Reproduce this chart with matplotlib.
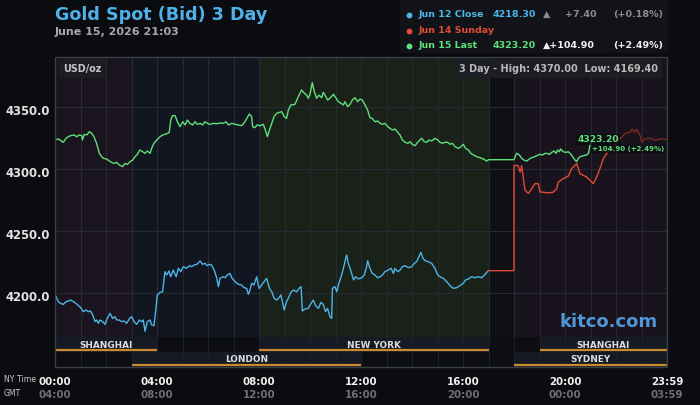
import matplotlib
matplotlib.use("Agg")
import matplotlib.pyplot as plt
from matplotlib.patches import Rectangle
from matplotlib.lines import Line2D

# ---- data (NY time in hours, price in USD/oz) ----
jun12_hours = [0.00, 0.07, 0.13, 0.22, 0.33, 0.43, 0.52, 0.61, 0.72, 0.82, 0.92, 1.01, 1.11, 1.22,
               1.31, 1.39, 1.48, 1.57, 1.63, 1.70, 1.76, 1.87, 1.96, 2.05, 2.16, 2.26, 2.35, 2.42,
               2.52, 2.61, 2.71, 2.81, 2.92, 3.01, 3.10, 3.20, 3.31, 3.40, 3.46, 3.53, 3.62, 3.73,
               3.79, 3.88, 3.96, 4.01, 4.12, 4.22, 4.31, 4.38, 4.47, 4.54, 4.64, 4.75, 4.84, 4.93,
               5.03, 5.16, 5.27, 5.36, 5.45, 5.56, 5.69, 5.79, 5.88, 5.97, 6.05, 6.14, 6.24, 6.34,
               6.41, 6.47, 6.58, 6.67, 6.76, 6.86, 6.93, 7.06, 7.19, 7.32, 7.41, 7.52, 7.58, 7.65,
               7.71, 7.80, 7.91, 7.97, 8.01, 8.10, 8.20, 8.30, 8.41, 8.50, 8.59, 8.69, 8.82,
               8.86, 8.99, 9.08, 9.15, 9.25, 9.35, 9.48, 9.57, 9.65, 9.70, 9.80, 9.93, 10.04, 10.13,
               10.22, 10.33, 10.43, 10.52, 10.61, 10.69, 10.78, 10.85, 10.88, 10.98, 11.05, 11.11,
               11.22, 11.31, 11.40, 11.44, 11.50, 11.57, 11.63, 11.71, 11.79, 11.90, 12.03, 12.13,
               12.22, 12.26, 12.35, 12.44, 12.55, 12.65, 12.75, 12.84, 12.94, 13.07, 13.18, 13.27,
               13.33, 13.44, 13.53, 13.62, 13.73, 13.86, 13.99, 14.09, 14.18, 14.27, 14.35, 14.44,
               14.54, 14.64, 14.77, 14.90, 15.01, 15.10, 15.23, 15.36, 15.49, 15.62, 15.75, 15.88,
               16.01, 16.10, 16.21, 16.34, 16.47, 16.60, 16.73, 16.84, 16.93, 17.00]
jun12_close = [4199.2, 4196.0, 4193.3, 4191.9, 4191.1, 4193.3, 4193.8, 4194.6, 4193.3, 4191.9,
               4190.1, 4188.4, 4185.2, 4186.6, 4185.2, 4185.8, 4182.5, 4177.2, 4178.5, 4175.8,
               4178.5, 4177.2, 4175.0, 4179.8, 4183.9, 4179.8, 4181.2, 4178.5, 4178.5, 4177.2,
               4177.7, 4175.8, 4179.8, 4181.2, 4177.2, 4175.0, 4178.5, 4177.2, 4178.5, 4169.4,
               4177.2, 4178.5, 4174.5, 4173.9, 4187.9, 4198.7, 4200.8, 4201.3, 4217.5, 4214.8,
               4218.0, 4213.4, 4218.8, 4213.4, 4220.2, 4217.5, 4221.5, 4220.2, 4222.3, 4221.5,
               4222.8, 4223.4, 4226.1, 4223.4, 4224.2, 4222.3, 4223.4, 4222.8, 4218.8, 4212.6,
               4205.4, 4212.1, 4213.4, 4212.6, 4214.8, 4216.1, 4212.6, 4209.4, 4207.3, 4206.7,
               4204.6, 4204.0, 4199.2, 4202.7, 4208.1, 4206.7, 4213.4, 4206.7, 4204.0, 4206.7,
               4209.4, 4212.1, 4204.0, 4201.3, 4196.0, 4194.6, 4197.3,
               4198.7, 4186.6, 4193.3, 4196.0, 4200.8, 4202.7, 4201.3, 4204.0, 4205.4, 4185.8,
               4187.4, 4187.9, 4191.9, 4194.6, 4190.1, 4187.9, 4192.7, 4191.1, 4185.2, 4187.9,
               4181.2, 4179.8, 4204.0, 4205.4, 4201.3, 4206.7, 4213.4, 4220.2, 4228.2, 4230.9,
               4224.2, 4220.2, 4216.1, 4210.8, 4213.4, 4211.6, 4212.6, 4214.8, 4221.5, 4226.3,
               4220.2, 4216.1, 4214.8, 4212.6, 4213.4, 4214.8, 4217.5, 4218.8, 4220.2, 4216.1,
               4220.2, 4217.5, 4218.8, 4221.5, 4222.3, 4220.7, 4221.5, 4224.2, 4225.5, 4229.6,
               4233.1, 4227.7, 4226.1, 4225.5, 4224.2, 4220.2, 4214.8, 4213.4, 4212.1, 4209.4,
               4206.2, 4204.0, 4204.6, 4206.2, 4208.1, 4210.8, 4211.6, 4213.4, 4212.6, 4213.4,
               4212.6, 4214.8, 4216.9, 4218.3]

jun14_hours = [17.00, 18.00, 18.00, 18.10, 18.16, 18.24, 18.30, 18.43, 18.56, 18.69, 18.82, 18.95,
               19.02, 19.28, 19.41, 19.54, 19.67, 19.74, 19.93, 20.13, 20.26, 20.46, 20.59, 20.85,
               21.11, 21.24, 21.37, 21.50, 21.70]
jun14_sunday = [4218.3, 4218.3, 4303.0, 4303.2, 4303.0, 4297.8, 4303.0, 4283.3, 4280.6, 4284.1,
                4288.5, 4288.5, 4281.8, 4281.2, 4281.0, 4281.6, 4284.4, 4289.8, 4292.5, 4294.6,
                4300.6, 4304.6, 4296.5, 4293.8, 4288.5, 4293.8, 4300.6, 4308.6, 4314.5]
jun14_tail_hours = [21.70, 21.92, 22.16, 22.35, 22.55, 22.62, 22.75, 22.81, 22.94, 23.01, 23.14,
                    23.33, 23.53, 23.73, 24.00]
jun14_tail = [4314.5, 4318.0, 4324.7, 4328.8, 4330.1, 4332.3, 4330.1, 4332.3, 4327.4, 4322.0,
              4324.7, 4325.0, 4323.4, 4324.7, 4324.0]

jun15_hours = [0.00, 0.13, 0.26, 0.33, 0.43, 0.52, 0.61, 0.75, 0.85, 0.95, 1.05, 1.08, 1.14, 1.24,
               1.35, 1.44, 1.53, 1.63, 1.74, 1.83, 1.90, 2.03, 2.13, 2.22, 2.31, 2.42, 2.52, 2.65,
               2.75, 2.84, 2.94, 3.05, 3.14, 3.23, 3.33, 3.44, 3.53, 3.62, 3.73, 3.79, 3.88, 3.99,
               4.12, 4.22, 4.31, 4.41, 4.48, 4.54, 4.61, 4.71, 4.80, 4.90, 5.01, 5.10, 5.19, 5.29,
               5.40, 5.49, 5.58, 5.69, 5.79, 5.88, 5.97, 6.08, 6.21, 6.34, 6.47, 6.60, 6.71, 6.80,
               6.93, 7.06, 7.19, 7.32, 7.41, 7.52, 7.62, 7.71, 7.75, 7.84, 7.93, 8.04, 8.17, 8.27,
               8.33, 8.41, 8.50, 8.59, 8.69, 8.82,
               8.89, 8.99, 9.08, 9.15, 9.25, 9.41, 9.54, 9.67, 9.78, 9.87, 9.93, 10.00, 10.09,
               10.17, 10.26, 10.35, 10.46, 10.52, 10.59, 10.69, 10.78, 10.92, 11.01, 11.11, 11.22,
               11.31, 11.37, 11.48, 11.57, 11.66, 11.76, 11.87, 11.96, 12.05, 12.16, 12.26, 12.35,
               12.44, 12.55, 12.65, 12.75, 12.84, 12.94, 13.05, 13.14, 13.23, 13.33, 13.44, 13.53,
               13.62, 13.73, 13.84, 13.92, 14.01, 14.12, 14.22, 14.31, 14.38, 14.48, 14.58, 14.67,
               14.77, 14.90, 15.01, 15.10, 15.19, 15.29, 15.40, 15.49, 15.58, 15.69, 15.82, 15.92,
               16.01, 16.10, 16.21, 16.31, 16.41, 16.54, 16.67, 16.80, 16.93, 17.00,
               18.00, 18.10, 18.21, 18.30, 18.39, 18.50, 18.60, 18.69, 18.82, 18.95, 19.02, 19.12,
               19.22, 19.28, 19.39, 19.48, 19.57, 19.65, 19.71, 19.78, 19.83, 19.93, 20.04, 20.13,
               20.20, 20.30, 20.39, 20.46, 20.52, 20.59, 20.72, 20.85, 20.92, 20.98, 21.02, 21.05]
jun15_last = [4323.7, 4324.5, 4322.8, 4321.8, 4325.0, 4326.3, 4327.2, 4327.7, 4326.3, 4327.7,
              4327.2, 4323.7, 4328.2, 4327.7, 4330.4, 4329.0, 4326.3, 4321.0, 4312.9, 4310.2,
              4308.9, 4308.3, 4306.7, 4305.6, 4304.8, 4305.6, 4303.5, 4302.2, 4304.8, 4304.0,
              4306.2, 4307.5, 4310.2, 4312.1, 4315.6, 4314.2, 4312.9, 4314.8, 4312.9, 4316.9,
              4321.0, 4323.7, 4326.3, 4327.7, 4328.2, 4329.0, 4329.8, 4339.8, 4343.3, 4343.3,
              4338.4, 4334.4, 4338.4, 4335.8, 4339.8, 4337.1, 4335.8, 4338.4, 4336.3, 4337.1,
              4335.8, 4338.4, 4337.1, 4336.3, 4337.1, 4336.8, 4337.4, 4337.1, 4338.4, 4335.8,
              4337.1, 4336.3, 4335.8, 4335.2, 4337.1, 4341.1, 4344.6, 4342.5, 4334.4, 4333.6,
              4335.8, 4335.2, 4336.3, 4330.4, 4326.3, 4331.7, 4337.1, 4342.5, 4345.2, 4346.0,
              4346.5, 4342.5, 4341.1, 4347.8, 4351.9, 4352.4, 4358.6, 4364.0, 4361.3, 4359.9,
              4357.3, 4360.5, 4370.0, 4362.6, 4357.3, 4359.9, 4357.8, 4362.1, 4359.9, 4355.9,
              4357.3, 4360.5, 4357.8, 4354.6, 4353.2, 4351.9, 4354.6, 4350.5, 4352.4, 4355.9,
              4357.8, 4354.6, 4356.7, 4355.9, 4351.9, 4347.8, 4341.7, 4341.1, 4338.4, 4339.0,
              4337.1, 4336.3, 4337.1, 4334.4, 4333.1, 4331.7, 4332.5, 4329.8, 4327.7, 4323.7,
              4321.8, 4321.0, 4322.3, 4320.2, 4319.1, 4321.8, 4323.7, 4325.0, 4322.3, 4321.8,
              4323.7, 4322.8, 4325.0, 4323.7, 4321.8, 4321.0, 4321.8, 4321.8, 4320.2, 4321.0,
              4318.3, 4316.9, 4318.3, 4320.2, 4316.9, 4315.6, 4312.9, 4311.6, 4310.2, 4309.4,
              4308.3, 4306.7, 4307.8,
              4307.8, 4312.9, 4311.6, 4308.9, 4307.5, 4306.7, 4308.3, 4309.4, 4310.2, 4311.6,
              4312.1, 4311.6, 4312.9, 4312.9, 4312.1, 4313.7, 4314.8, 4312.9, 4315.6, 4314.2,
              4316.4, 4314.2, 4313.7, 4314.2, 4312.9, 4310.2, 4307.5, 4306.2, 4308.9, 4310.2,
              4311.0, 4311.6, 4312.9, 4319.6, 4321.0, 4323.2]

y_ticks = [4200, 4250, 4300, 4350]
ny_ticks = [0, 4, 8, 12, 16, 20, 24]
ny_labels = ["00:00", "04:00", "08:00", "12:00", "16:00", "20:00", "23:59"]
gmt_labels = ["04:00", "08:00", "12:00", "16:00", "20:00", "00:00", "03:59"]

# background bands (start hour, end hour, colour)
bands = [(0, 3, "#1a141e"), (3, 8, "#111621"), (8, 17, "#1a2119"),
         (17, 18, "#0f1013"), (18, 24, "#18131d")]
# sessions: name, start, end, row
sessions = [("SHANGHAI", 0, 4, 0), ("NEW YORK", 8, 17, 0), ("SHANGHAI", 19, 24, 0),
            ("LONDON", 3, 12, 1), ("SYDNEY", 18, 24, 1)]

BG = "#0b0c10"
BLUE = "#4cb4e6"
RED = "#e24b33"
GREEN = "#5ee07a"
GRID = "#252a33"
W, H = 700, 405


def fx(px):
    return px / W


def fy(py):
    return 1 - py / H


fig = plt.figure(figsize=(7, 4.05), dpi=100, facecolor=BG)
ax = fig.add_axes([fx(55), fy(337), fx(612), 280 / H])
sx = fig.add_axes([fx(55), fy(367), fx(612), 30 / H])

# ---- main price panel ----
ax.set_facecolor(BG)
for a, b, c in bands:
    ax.axvspan(a, b, color=c, lw=0, zorder=0)
for h in range(1, 24):
    ax.axvline(h, color=GRID, lw=0.8, zorder=1)
for v in y_ticks:
    ax.axhline(v, color=GRID, lw=0.8, zorder=1)
ax.set_xlim(0, 24)
ax.set_ylim(4164.8, 4390.6)
ax.set_xticks([])
ax.set_yticks([])
for s in ax.spines.values():
    s.set_visible(False)

ax.plot(jun12_hours, jun12_close, color=BLUE, lw=1.0, zorder=3)
ax.plot(jun14_tail_hours, jun14_tail, color="#7c2a21", lw=1.0, zorder=3)
ax.plot(jun14_hours, jun14_sunday, color=RED, lw=1.0, zorder=3)
ax.plot(jun15_hours, jun15_last, color=GREEN, lw=1.0, zorder=4)

for v in y_ticks:
    ax.annotate(f"{v:.1f}", xy=(0, v), xycoords=("axes fraction", "data"),
                xytext=(-3.5, -3), textcoords="offset points", ha="right", va="center",
                fontsize=8.4, fontweight="bold", color="#e2e2e2", annotation_clip=False)

last_h, last_v = jun15_hours[-1], jun15_last[-1]
box = dict(boxstyle="square,pad=0.12", fc=BG, ec="none", alpha=0.75)
ax.annotate(f"{last_v:.2f}", xy=(last_h, last_v), xytext=(4.5, 0.8), textcoords="offset points",
            ha="center", va="center", fontsize=6.6, fontweight="bold", color=GREEN, bbox=box, zorder=6)
ax.annotate("+104.90 (+2.49%)", xy=(last_h, last_v), xytext=(0, -6.2), textcoords="offset points",
            ha="left", va="center", fontsize=5.0, fontweight="bold", color=GREEN, bbox=box, zorder=6)

ax.text(0.014, 0.958, "USD/oz", transform=ax.transAxes, ha="left", va="center", fontsize=6.9,
        fontweight="bold", color="#c4c4c4", zorder=6,
        bbox=dict(boxstyle="square,pad=0.45", fc="#1e1b23", ec="none"))
ax.text(0.985, 0.958, "3 Day - High: 4370.00  Low: 4169.40", transform=ax.transAxes,
        ha="right", va="center", fontsize=7, fontweight="bold", color="#b8b8b8", zorder=6,
        bbox=dict(boxstyle="square,pad=0.45", fc="#1d1e23", ec="none"))
ax.text(0.985, 0.055, "kitco.com", transform=ax.transAxes, ha="right", va="center",
        fontsize=13, fontweight="bold", color="#5196d6", zorder=6)

# ---- session strip ----
sx.set_facecolor("#0d0e12")
sx.set_xlim(0, 24)
sx.set_ylim(30, 0)
sx.set_xticks([])
sx.set_yticks([])
for s in sx.spines.values():
    s.set_visible(False)
for name, a, b, row in sessions:
    y0 = row * 15
    sx.add_patch(Rectangle((a, y0), b - a, 14.5, fc="#151a24", ec="none", zorder=0))
for h in range(1, 24):
    sx.axvline(h, color="#1c2029", lw=0.8, zorder=1)
for name, a, b, row in sessions:
    y0 = row * 15
    sx.plot([a, b], [y0 + 12.5, y0 + 12.5], color="#c98a2e", lw=1.6, zorder=3,
            solid_capstyle="butt")
    sx.text((a + b) / 2, y0 + 8, name, ha="center", va="center", fontsize=6.4,
            fontweight="bold", color="#dcdcdc", zorder=4)

for h, ny, gmt in zip(ny_ticks, ny_labels, gmt_labels):
    sx.annotate(ny, xy=(h, 0), xycoords=("data", "axes fraction"), xytext=(0, -11),
                textcoords="offset points", ha="center", va="center", fontsize=7.4,
                fontweight="bold", color="#f0f0f0", annotation_clip=False)
    sx.annotate(gmt, xy=(h, 0), xycoords=("data", "axes fraction"), xytext=(0, -20.5),
                textcoords="offset points", ha="center", va="center", fontsize=7.4,
                fontweight="bold", color="#6f7073", annotation_clip=False)
fig.text(fx(4), fy(380), "NY Time", ha="left", va="center", fontsize=5.6, color="#c8c8c8")
fig.text(fx(4), fy(394), "GMT", ha="left", va="center", fontsize=5.6, color="#c8c8c8")

# frame around both panels
fig.add_artist(Rectangle((fx(55), fy(367)), fx(612), 310 / H, transform=fig.transFigure,
                         fill=False, ec="#3b3f49", lw=1.0, zorder=10))

# ---- header ----
fig.text(fx(55), fy(15.5), "Gold Spot (Bid) 3 Day", ha="left", va="center", fontsize=12.6,
         fontweight="bold", color="#4fb0ea")
fig.text(fx(55), fy(32), "June 15, 2026 21:03", ha="left", va="center", fontsize=8,
         fontweight="bold", color="#a8a8a8")

fig.add_artist(Rectangle((fx(400), fy(53)), fx(268), 53 / H, transform=fig.transFigure,
                         fc="#111318", ec="none", zorder=0))
legend_rows = [("Jun 12 Close", BLUE, 14.7), ("Jun 14 Sunday", RED, 30.5), ("Jun 15 Last", GREEN, 45.7)]
for label, col, py in legend_rows:
    fig.add_artist(Line2D([fx(409)], [fy(py)], marker="o", ms=3.2, color=col, lw=0,
                          transform=fig.transFigure))
    fig.text(fx(419), fy(py), label, ha="left", va="center", fontsize=6.8, fontweight="bold", color=col)
fig.text(fx(493), fy(14.7), "4218.30", ha="left", va="center", fontsize=6.8, fontweight="bold", color=BLUE)
fig.text(fx(543), fy(14.7), "\u25b2", ha="left", va="center", fontsize=6.8, fontweight="bold", color="#8c8c8c")
fig.text(fx(565), fy(14.7), "+7.40", ha="left", va="center", fontsize=6.8, fontweight="bold", color="#8c8c8c")
fig.text(fx(613), fy(14.7), "(+0.18%)", ha="left", va="center", fontsize=6.8, fontweight="bold", color="#8c8c8c")
fig.text(fx(493), fy(45.7), "4323.20", ha="left", va="center", fontsize=6.8, fontweight="bold", color=GREEN)
fig.text(fx(543), fy(45.7), "\u25b2+104.90", ha="left", va="center", fontsize=6.8, fontweight="bold", color="#f2f2f2")
fig.text(fx(613), fy(45.7), "(+2.49%)", ha="left", va="center", fontsize=6.8, fontweight="bold", color="#f2f2f2")

fig.savefig("out.png", dpi=100, facecolor=BG)
